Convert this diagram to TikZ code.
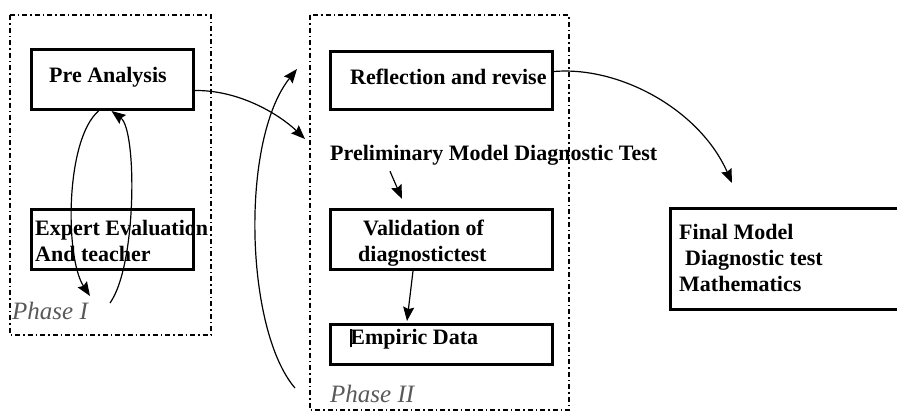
\documentclass[tikz,border=0pt]{standalone}
\usepackage{fontspec}
\setmainfont{Liberation Serif}
\usetikzlibrary{arrows.meta, positioning, calc}

\begin{document}
\begin{tikzpicture}[x=1pt, y=-1pt,
    stagebox/.style={draw, line width=3pt, anchor=north west, inner sep=0pt},
    phaseframe/.style={draw, line width=1.3pt, dash pattern=on 5pt off 3pt on 1.5pt off 3pt},
    lbl/.style={font=\fontsize{22}{26}\selectfont\bfseries, inner sep=0pt, anchor=west, align=left},
    phaselbl/.style={font=\fontsize{25}{30}\selectfont\itshape, text=black!65, inner sep=0pt, anchor=west},
    flow/.style={-{Stealth[length=14pt, width=11pt, inset=2pt]}, line width=1.2pt}]
    \clip (0,0) rectangle (897,413);

    % Phase frames
    \draw[phaseframe] (10,15) rectangle (211,335);
    \draw[phaseframe] (310,15) rectangle (569,410);
    \node[phaselbl] (ph1) at (12,311) {Phase I};
    \node[phaselbl] (ph2) at (330,394) {Phase II};

    % Phase I boxes
    \node[stagebox, minimum width=162pt, minimum height=60pt] (pre) at (30,48) {};
    \node[lbl] (preT) at (49,77) {Pre Analysis};
    \node[stagebox, minimum width=162pt, minimum height=60pt] (expert) at (30,208) {};
    \node[lbl] (expertT) at (35,241) {Expert Evaluation\\And teacher};

    % Phase II boxes
    \node[stagebox, minimum width=222pt, minimum height=58pt] (refl) at (329,50) {};
    \node[lbl] (reflT) at (350,77) {Reflection and revise};
    \node[lbl] (prelim) at (330,155) {Preliminary Model Diagnostic Test};
    \node[stagebox, minimum width=222pt, minimum height=60pt] (valid) at (329,208) {};
    \node[lbl] (validT) at (358,243) {\hspace*{5pt}Validation of\\diagnostictest};
    \node[stagebox, minimum width=222pt, minimum height=40pt] (empiric) at (329,323) {};
    \node[lbl] (empiricT) at (350,339) {\rule[-3pt]{2.2pt}{18pt}\hspace{-2pt}Empiric Data};

    % Final model
    \node[stagebox, minimum width=234pt, minimum height=101pt] (final) at (669,207) {};
    \node[lbl] (finalT) at (679,258) {Final Model\\\hspace*{6pt}Diagnostic test\\Mathematics};

    % Phase I loop
    \coordinate (loopL) at (90,296);
    \coordinate (loopR) at (110,303);
    \draw[flow] ([xshift=-14pt]pre.south) .. controls (65,140) and (65,258) .. (loopL);
    \draw[flow] (loopR) .. controls (137,265) and (137,130) .. ([xshift=-1pt]pre.south);

    % Phase I -> Phase II
    \coordinate (into2) at (305,139);
    \draw[flow] ([yshift=-11pt]pre.east) .. controls (240,90) and (280,115) .. (into2);

    % Feedback into Phase II
    \coordinate (backS) at (295,388);
    \coordinate (backE) at (297,69);
    \draw[flow] (backS) .. controls (245,330) and (240,140) .. (backE);

    % Phase II flow
    \draw[flow] ($(prelim.south west)+(60,6)$) -- ($(valid.north west)+(73,-9)$);
    \draw[flow] ($(valid.south west)+(84,0)$) -- ($(empiric.north west)+(78,-2)$);

    % Reflection -> Final
    \draw[flow] ([yshift=9pt]refl.east) .. controls (620,66) and (700,110) .. ($(final.north west)+(63,-24)$);
\end{tikzpicture}
\end{document}
